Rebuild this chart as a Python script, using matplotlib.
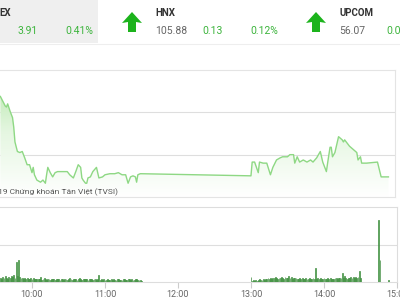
import numpy as np
import matplotlib.pyplot as plt
from matplotlib.colors import LinearSegmentedColormap
from matplotlib.patches import Polygon, Rectangle

plt.rcParams['font.family'] = ['Liberation Sans Narrow', 'Roboto', 'DejaVu Sans']

def mins(s):
    h, m = s.split(':')
    return int(h) * 60 + int(m)

# VN-Index intraday line (time, points)
price_times = ['9:34', '9:36', '9:38', '9:39', '9:40', '9:42', '9:44', '9:45', '9:46', '9:48',
               '9:50', '9:52', '9:54', '9:56', '9:58', '10:00', '10:01', '10:02', '10:04', '10:07',
               '10:09', '10:11', '10:12', '10:13', '10:15', '10:17', '10:19', '10:21', '10:25', '10:29',
               '10:31', '10:34', '10:36', '10:38', '10:40', '10:41', '10:42', '10:44', '10:45', '10:46',
               '10:48', '10:50', '10:53', '10:54', '10:55', '10:58', '11:00', '11:04', '11:08', '11:11',
               '11:14', '11:17', '11:19', '11:21', '11:23', '11:25', '11:26', '11:27', '11:29', '11:30',
               '13:00', '13:01', '13:03', '13:06', '13:07', '13:10', '13:13', '13:16', '13:18', '13:21',
               '13:24', '13:26', '13:30', '13:32', '13:35', '13:36', '13:38', '13:40', '13:43', '13:46',
               '13:49', '13:51', '13:54', '13:57', '13:59', '14:02', '14:03', '14:05', '14:06', '14:07',
               '14:09', '14:11', '14:12', '14:15', '14:16', '14:17', '14:19', '14:21', '14:24', '14:27',
               '14:28', '14:30', '14:31', '14:35', '14:44', '14:47', '14:53']
price_vals = [965.5, 965.05, 964.6, 964.5, 964.8, 964.1, 963.5, 962.6, 961.2, 960.3,
              960.2, 960.3, 959.7, 959.05, 959.05, 958.3, 958.8, 958.1, 957.6, 957.4,
              957.6, 957.3, 958.1, 958.8, 958.3, 957.9, 958.3, 958.4, 958.4, 958.4,
              958.1, 957.8, 958.4, 959.05, 958.8, 957.8, 957.6, 957.3, 957.3, 957.8,
              957.9, 958.4, 958.8, 958.3, 957.8, 957.9, 958.1, 958.2, 958.2, 958.3,
              958.1, 958.1, 957.3, 957.9, 958.0, 957.9, 957.4, 958.1, 958.2, 958.2,
              958.0, 959.3, 959.3, 958.3, 959.3, 959.2, 959.2, 958.1, 958.8, 959.5,
              959.7, 959.8, 959.8, 960.0, 960.0, 959.2, 959.8, 959.3, 959.5, 959.3,
              959.5, 959.3, 959.7, 960.3, 959.3, 958.4, 959.2, 960.7, 960.7, 959.8,
              960.2, 961.2, 961.7, 961.4, 961.2, 961.4, 961.1, 960.8, 960.5, 960.2,
              959.5, 959.8, 959.2, 959.2, 959.3, 957.9, 957.9]

# matched volume per minute
am_start = '9:34'
am_vol = [110, 90, 130, 100, 150, 120, 90, 140, 110, 160,
          130, 180, 120, 530, 150, 590, 140, 120, 100, 90,
          110, 80, 100, 70, 90, 120, 80, 100, 70, 90,
          80, 70, 90, 135, 60, 80, 100, 70, 60, 90,
          70, 60, 80, 90, 70, 60, 80, 70, 90, 60,
          70, 80, 60, 90, 70, 60, 80, 100, 70, 60,
          80, 70, 90, 60, 70, 110, 80, 60, 70, 90,
          80, 70, 60, 90, 80, 90, 60, 70, 80, 60,
          70, 190, 60, 80, 60, 70, 50, 60, 80, 60,
          50, 70, 60, 80, 60, 50, 70, 90, 60, 50,
          60, 80, 70, 50, 60, 90, 70, 60, 80, 60,
          50, 70, 80, 60, 50, 60, 40]
pm_start = '13:00'
pm_vol = [135, 40, 50, 30, 60, 40, 50, 70, 60, 50,
          80, 60, 90, 70, 100, 80, 110, 90, 120, 100,
          130, 110, 90, 120, 100, 140, 110, 90, 130, 100,
          120, 170, 110, 130, 90, 120, 100, 110, 80, 90,
          100, 80, 110, 90, 70, 100, 80, 90, 110, 80,
          90, 100, 80, 375, 90, 100, 80, 110, 90, 80,
          100, 90, 80, 110, 90, 100, 80, 70, 90, 100,
          110, 90, 100, 120, 110, 240, 100, 150, 110, 90,
          120, 100, 130, 110, 140, 120, 130, 110, 140, 290,
          100]
atc_times = ['14:45', '14:46', '14:53']
atc_vol = [1650, 590, 55]

hour_labels = ['10:00', '11:00', '12:00', '13:00', '14:00', '15:00']

t = np.array([mins(s) for s in price_times])
v = np.array(price_vals)
vt = np.concatenate([mins(am_start) + np.arange(len(am_vol)),
                     mins(pm_start) + np.arange(len(pm_vol)),
                     [mins(s) for s in atc_times]])
vv = np.concatenate([am_vol, pm_vol, atc_vol])

xlim = (573.7, 898.4)
fig = plt.figure(figsize=(4, 3), dpi=100)

# price panel
ax = fig.add_axes([0, 103 / 300, 395 / 400, 127 / 300])
ax.set_xlim(*xlim)
ax.set_ylim(956, 968)
band = ax.fill_between(t, v, 956, color='none', lw=0)
cmap = LinearSegmentedColormap.from_list('g', ['#ffffff', '#e6f7e2', '#b0e5a4'])
grad = np.linspace(0, 1, 256).reshape(-1, 1)
img = ax.imshow(grad, extent=[xlim[0], xlim[1], 956, 968], origin='lower',
                aspect='auto', cmap=cmap, zorder=1)
img.set_clip_path(band.get_paths()[0], transform=ax.transData)
ax.plot(t, v, color='#8ed884', lw=1.0, zorder=3)
ax.set_yticks([960, 964])
ax.grid(axis='y', color='#dedede', lw=0.8)
ax.set_xticks([])
ax.tick_params(left=False, labelleft=False)
ax.spines['left'].set_visible(False)
for s in ['top', 'right', 'bottom']:
    ax.spines[s].set_color('#e4e4e4')
    ax.spines[s].set_linewidth(0.8)
ax.set_axisbelow(True)
ax.text(0.298, 0.04, '©2019 Chứng khoán Tân Việt (TVSI)', transform=ax.transAxes,
        ha='right', va='center', fontsize=6, color='#555555', zorder=4)

# volume panel
axv = fig.add_axes([0, 18 / 300, 397 / 400, 75 / 300])
axv.set_xlim(xlim[0], 900.0)
axv.set_ylim(0, 2000)
axv.bar(vt, vv, width=0.7, color='#7cc27c', edgecolor='#3b8a3b', lw=0.5, zorder=3)
axv.set_yticks([1000])
axv.grid(axis='y', color='#dedede', lw=0.8)
axv.set_xticks([mins(s) for s in hour_labels])
axv.set_xticklabels(hour_labels)
axv.tick_params(axis='x', length=4, color='#cccccc', labelsize=6.5, labelcolor='#666666', pad=2)
axv.tick_params(left=False, labelleft=False)
axv.spines['left'].set_visible(False)
for s in ['top', 'right', 'bottom']:
    axv.spines[s].set_color('#dddddd')
    axv.spines[s].set_linewidth(0.8)
axv.set_axisbelow(True)

# header strip in pixel coordinates
hd = fig.add_axes([0, 0, 1, 1], zorder=-1)
hd.set_xlim(0, 400)
hd.set_ylim(300, 0)
hd.axis('off')
hd.add_patch(Rectangle((0, 0), 98, 43, color='#efefef', lw=0))
hd.plot([0, 400], [43.5, 43.5], color='#eeeeee', lw=0.8)

top = fig.add_axes([0, 0, 1, 1], zorder=5)
top.set_xlim(0, 400)
top.set_ylim(300, 0)
top.axis('off')
top.patch.set_alpha(0)
for cx in [132, 316]:
    arrow = [(cx, 12), (cx + 10, 23), (cx + 4, 22), (cx + 4, 32), (cx - 4, 32),
             (cx - 4, 22), (cx - 10, 23)]
    top.add_patch(Polygon(arrow, closed=True, color='#1cb31c', lw=0))

green = '#3cb43c'
gray = '#666666'
lab = '#333333'
top.text(-1, 13, 'EX', fontsize=7, fontweight='bold', color=lab, va='center', ha='left')
top.text(17, 31, '3.91', fontsize=7.5, color=green, va='center', ha='left')
top.text(65, 31, '0.41%', fontsize=7.5, color=green, va='center', ha='left')
top.text(155, 13, 'HNX', fontsize=7, fontweight='bold', color=lab, va='center', ha='left')
top.text(155, 31, '105.88', fontsize=7.5, color=gray, va='center', ha='left')
top.text(202, 31, '0.13', fontsize=7.5, color=green, va='center', ha='left')
top.text(250, 31, '0.12%', fontsize=7.5, color=green, va='center', ha='left')
top.text(339, 13, 'UPCOM', fontsize=7, fontweight='bold', color=lab, va='center', ha='left')
top.text(339, 31, '56.07', fontsize=7.5, color=gray, va='center', ha='left')
top.text(386, 31, '0.07%', fontsize=7.5, color=green, va='center', ha='left')

fig.savefig('out.png', dpi=100)
